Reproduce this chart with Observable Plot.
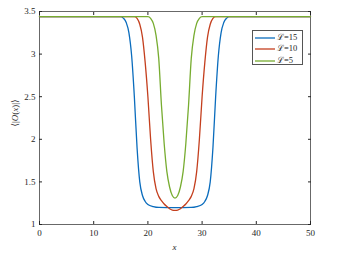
<!DOCTYPE html>
<html><head><meta charset="utf-8">
<script src="https://cdn.jsdelivr.net/npm/d3@7"></script>
<script src="https://cdn.jsdelivr.net/npm/@observablehq/plot@0.6"></script>
<style>
body{margin:0;background:#fff;}
#wrap{position:relative;width:337px;height:262px;font-family:"Liberation Serif","DejaVu Serif",serif;}
.lbl{position:absolute;font-size:9px;color:#262626;white-space:nowrap;}
#legend{position:absolute;left:252px;top:30px;width:51px;height:35px;border:0.8px solid #555;background:#fff;box-sizing:border-box;}
.row{position:absolute;left:2px;font-size:8.5px;line-height:10px;color:#262626;white-space:nowrap;}
.row svg{vertical-align:middle;margin-right:2px;}
</style></head>
<body><div id="wrap"></div>
<script>
const xTicks = [0, 10, 20, 30, 40, 50];
const yTicks = [1, 1.5, 2, 2.5, 3, 3.5];
const seriesNames = ["ℒ=15", "ℒ=10", "ℒ=5"];
const seriesColors = ["#0a6cbd", "#C43F1E", "#77AC30"];

const blueX = [0,15,15.5,16,16.5,17,17.5,18,18.5,19,19.5,20,21,22,25,28,29,30,30.5,31,31.5,32,32.5,33,33.5,34,34.5,35,50];
const blueY = [3.44,3.44,3.42,3.37,3.25,2.98,2.5,1.9,1.5,1.34,1.27,1.235,1.21,1.2,1.198,1.2,1.21,1.235,1.27,1.34,1.5,1.9,2.5,2.98,3.25,3.37,3.42,3.44,3.44];

const redX = [0,17.5,18,18.5,19,19.5,20,20.5,21,21.5,22,22.5,23,23.5,24,24.5,25,25.5,26,26.5,27,27.5,28,28.5,29,29.5,30,30.5,31,31.5,32,32.5,50];
const redY = [3.44,3.44,3.42,3.35,3.2,2.9,2.5,2.0,1.62,1.42,1.33,1.28,1.24,1.21,1.185,1.17,1.165,1.17,1.185,1.21,1.24,1.28,1.33,1.42,1.62,2.0,2.5,2.9,3.2,3.35,3.42,3.44,3.44];

const greenX = [0,20,20.5,21,21.5,22,22.5,23,23.5,24,24.5,25,25.5,26,26.5,27,27.5,28,28.5,29,29.5,30,50];
const greenY = [3.44,3.44,3.42,3.36,3.22,2.95,2.4,1.95,1.62,1.44,1.34,1.31,1.34,1.44,1.62,1.95,2.4,2.95,3.22,3.36,3.42,3.44,3.44];

const xs = [blueX, redX, greenX], ys = [blueY, redY, greenY];
const data = [];
xs.forEach((X, s) => X.forEach((x, i) => data.push({series: seriesNames[s], x, y: ys[s][i]})));

const axisColor = "#262626";
const chart = Plot.plot({
  width: 337, height: 262,
  marginLeft: 39, marginRight: 27, marginTop: 11, marginBottom: 38,
  style: {fontFamily: "Liberation Serif, DejaVu Serif, serif", fontSize: "9px", color: axisColor, background: "#fff"},
  x: {domain: [0, 50]},
  y: {domain: [1, 3.5]},
  color: {domain: seriesNames, range: seriesColors},
  marks: [
    Plot.frame({stroke: "#444", strokeWidth: 0.8}),
    Plot.axisX({anchor: "bottom", ticks: xTicks, tickSize: -3, tickPadding: 8, label: null, tickFormat: d => String(d)}),
    Plot.axisX({anchor: "top", ticks: xTicks, tickSize: -3, label: null, tickFormat: () => ""}),
    Plot.axisY({anchor: "left", ticks: yTicks, tickSize: -3, tickPadding: 7, label: null, tickFormat: d => String(d)}),
    Plot.axisY({anchor: "right", ticks: yTicks, tickSize: -3, label: null, tickFormat: () => ""}),
    Plot.line(data, {x: "x", y: "y", z: "series", stroke: "series", strokeWidth: 1.3, curve: "monotone-x"})
  ]
});
const wrap = document.getElementById("wrap");
wrap.appendChild(chart);

const yl = document.createElement("div");
yl.className = "lbl";
yl.innerHTML = "⟨|<i>O</i>(<i>x</i>)|⟩";
yl.style.left = "14.5px"; yl.style.top = "112.5px";
yl.style.transform = "translate(-50%,-50%) rotate(-90deg)";
wrap.appendChild(yl);

const xl = document.createElement("div");
xl.className = "lbl";
xl.innerHTML = "<i>x</i>";
xl.style.left = "174.5px"; xl.style.top = "246.5px";
xl.style.transform = "translate(-50%,-50%)";
wrap.appendChild(xl);

const lg = document.createElement("div");
lg.id = "legend";
seriesNames.forEach((n, i) => {
  const r = document.createElement("div");
  r.className = "row";
  r.style.top = (1 + i * 11.3) + "px";
  r.innerHTML = `<svg width="20" height="4"><line x1="0" x2="20" y1="2" y2="2" stroke="${seriesColors[i]}" stroke-width="1.3"/></svg>${n}`;
  lg.appendChild(r);
});
wrap.appendChild(lg);
</script></body></html>
